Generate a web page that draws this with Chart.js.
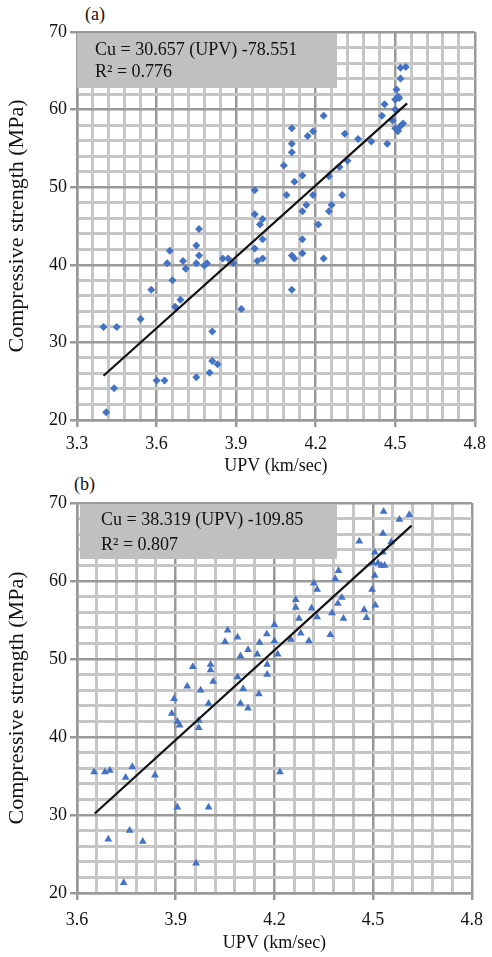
<!DOCTYPE html>
<html>
<head>
<meta charset="utf-8">
<script src="https://cdn.jsdelivr.net/npm/chart.js@4.4.1/dist/chart.umd.min.js"></script>
<style>
  html, body { margin: 0; padding: 0; background: #fff; }
  body { width: 492px; height: 957px; position: relative; overflow: hidden; }
  canvas { position: absolute; left: 0; }
  .tag { position: absolute; font: 18px "Liberation Serif", serif; color: #111; }
</style>
</head>
<body>
<span class="tag" style="left:85px; top:4px;">(a)</span>
<span class="tag" style="left:74px; top:474px;">(b)</span>
<canvas id="chartA" width="492" height="480" style="top:0"></canvas>
<canvas id="chartB" width="492" height="477" style="top:480px"></canvas>
<script>
// (a) UPV vs compressive strength, diamonds
const upvA = [3.40, 3.45, 3.41, 3.44, 3.54, 3.58, 3.60, 3.63, 3.65, 3.64, 3.66, 3.67, 3.69, 3.70, 3.71, 3.75, 3.76, 3.76, 3.75, 3.78,
  3.79, 3.75, 3.80, 3.81, 3.81, 3.83, 3.85, 3.87, 3.89, 3.92, 3.97, 3.97, 3.99, 4.00, 4.00, 3.97, 3.98, 4.00, 4.08, 4.11,
  4.11, 4.11, 4.09, 4.12, 4.15, 4.165, 4.15, 4.19, 4.15, 4.11, 4.12, 4.15, 4.11, 4.17, 4.19, 4.23, 4.21, 4.23, 4.25, 4.26,
  4.25, 4.29, 4.32, 4.30, 4.31, 4.36, 4.41, 4.45, 4.46, 4.47, 4.49, 4.50, 4.51, 4.52, 4.50, 4.515, 4.52, 4.54, 4.52, 4.505,
  4.51, 4.50, 4.51, 4.53];
const strA = [32.0, 32.0, 21.0, 24.1, 33.0, 36.8, 25.1, 25.1, 41.8, 40.2, 38.0, 34.6, 35.5, 40.5, 39.5, 42.5, 44.6, 41.2, 40.2, 39.9,
  40.2, 25.5, 26.1, 31.4, 27.6, 27.2, 40.8, 40.8, 40.2, 34.3, 49.6, 46.5, 45.2, 45.9, 43.3, 42.1, 40.5, 40.8, 52.8, 57.6,
  55.6, 54.5, 49.0, 50.7, 51.5, 47.7, 46.9, 49.0, 43.3, 41.2, 40.8, 41.5, 36.8, 56.6, 57.2, 59.2, 45.2, 40.8, 51.4, 47.7,
  46.9, 52.6, 53.4, 49.0, 56.9, 56.2, 55.9, 59.2, 60.7, 55.6, 58.6, 57.6, 57.3, 57.9, 60.0, 61.5, 65.4, 65.5, 64.0, 62.6,
  61.7, 61.3, 57.2, 58.2];
const trendXA = [3.40, 4.545];
const trendYA = [25.7, 60.8];
const eqA = ["Cu = 30.657 (UPV) -78.551", "R\u00B2 = 0.776"];

// (b) triangles
const upvB = [3.652, 3.685, 3.70, 3.748, 3.768, 3.837, 3.695, 3.76, 3.80, 3.742, 3.962, 3.905, 4.00, 4.217, 3.895, 3.888, 3.905, 3.912, 3.935, 3.952,
  3.976, 3.97, 3.97, 4.00, 4.006, 4.006, 4.014, 4.05, 4.058, 4.088, 4.097, 4.12, 4.088, 4.105, 4.097, 4.12, 4.148, 4.155, 4.177, 4.20,
  4.20, 4.21, 4.178, 4.178, 4.153, 4.25, 4.28, 4.305, 4.37, 4.265, 4.265, 4.275, 4.313, 4.32, 4.33, 4.33, 4.385, 4.395, 4.375, 4.393,
  4.405, 4.41, 4.473, 4.48, 4.458, 4.497, 4.507, 4.505, 4.505, 4.50, 4.515, 4.525, 4.535, 4.53, 4.53, 4.555, 4.532, 4.58, 4.61];
const strB = [35.5, 35.5, 35.7, 34.8, 36.2, 35.1, 26.9, 28.0, 26.6, 21.3, 23.8, 31.0, 31.0, 35.5, 44.9, 43.0, 42.0, 41.5, 46.5, 49.0,
  46.0, 42.1, 41.2, 44.3, 49.3, 48.6, 47.1, 52.2, 53.7, 52.8, 50.4, 51.2, 47.7, 46.2, 44.3, 43.7, 50.6, 52.1, 53.2, 54.4,
  52.3, 50.6, 49.3, 48.0, 45.5, 52.5, 53.3, 52.3, 53.1, 57.6, 56.6, 55.2, 56.5, 59.7, 58.9, 55.4, 60.3, 61.3, 55.9, 57.1,
  57.9, 55.2, 56.3, 55.3, 65.1, 58.9, 56.9, 60.7, 63.7, 62.3, 62.3, 62.0, 62.0, 63.7, 66.1, 65.0, 68.9, 67.9, 68.5];
const trendXB = [3.654, 4.617];
const trendYB = [30.2, 67.1];
const eqB = ["Cu = 38.319 (UPV) -109.85", "R\u00B2 = 0.807"];

const SERIF = '"Liberation Serif", "Times New Roman", serif';
const BLUE = '#4472C4';

const nearMult = (v, m) => Math.abs(v / m - Math.round(v / m)) < 1e-6;

// grey box with the regression equation, drawn under the points
const eqBox = {
  id: 'eqBox',
  beforeDatasetsDraw(chart, args, o) {
    const { ctx, chartArea: a } = chart;
    ctx.save();
    ctx.fillStyle = '#c0c0c0';
    ctx.fillRect(a.left + o.dx, a.top + 1, o.w, o.h);
    ctx.fillStyle = '#111';
    ctx.font = '18px ' + SERIF;
    ctx.textBaseline = 'alphabetic';
    ctx.fillText(o.lines[0], a.left + o.tx, a.top + o.y1);
    ctx.fillText(o.lines[1], a.left + o.tx, a.top + o.y2);
    ctx.restore();
  }
};

function makeChart(id, c) {
  const pts = c.xs.map((x, i) => ({ x: x, y: c.ys[i] }));
  const trend = c.tx.map((x, i) => ({ x: x, y: c.ty[i] }));
  const gridCol = (major) => (ctx) => major(ctx.tick.value) ? '#999999' : '#c6c6c6';
  const gridW = (major) => (ctx) => major(ctx.tick.value) ? 2.5 : 3;
  const tickCol = (major) => (ctx) => major(ctx.tick.value) ? '#999999' : 'rgba(0,0,0,0)';
  const xMajor = (v) => nearMult(v - 3.3, 0.3);
  const yMajor = (v) => nearMult(v, 10);

  return new Chart(document.getElementById(id), {
    type: 'scatter',
    data: {
      datasets: [
        {
          data: pts,
          pointStyle: c.style,
          pointRadius: c.radius,
          backgroundColor: BLUE,
          borderColor: BLUE,
          borderWidth: 0,
          order: 1
        },
        {
          type: 'line',
          data: trend,
          borderColor: '#111',
          borderWidth: 2.2,
          pointRadius: 0,
          fill: false,
          order: 0
        }
      ]
    },
    options: {
      responsive: false,
      animation: false,
      devicePixelRatio: 1,
      layout: { padding: { top: c.padTop, right: c.padRight, left: 0, bottom: 0 } },
      plugins: {
        legend: { display: false },
        tooltip: { enabled: false },
        eqBox: c.box
      },
      scales: {
        x: {
          type: 'linear',
          min: c.xmin,
          max: 4.8,
          afterFit(s) { s.height = c.xh; },
          ticks: {
            stepSize: 0.06,
            autoSkip: false,
            maxRotation: 0,
            padding: c.xpad,
            color: '#111',
            font: { family: SERIF, size: 18 },
            callback: (v) => xMajor(v) ? v.toFixed(1) : ''
          },
          grid: { color: gridCol(xMajor), lineWidth: gridW(xMajor), tickColor: tickCol(xMajor), tickLength: 7 },
          border: { color: '#999999', width: 2.5 },
          title: { display: true, text: 'UPV (km/sec)', color: '#111', font: { family: SERIF, size: 18 }, padding: 3 }
        },
        y: {
          min: 20,
          max: 70,
          afterFit(s) { s.width = 77; },
          ticks: {
            stepSize: 2,
            autoSkip: false,
            padding: 3,
            color: '#111',
            font: { family: SERIF, size: 18 },
            callback: (v) => yMajor(v) ? String(v) : ''
          },
          grid: { color: gridCol(yMajor), lineWidth: gridW(yMajor), tickColor: tickCol(yMajor), tickLength: 7 },
          border: { color: '#999999', width: 2.5 },
          title: { display: true, text: 'Compressive strength (MPa)', color: '#111', font: { family: SERIF, size: 22 }, padding: 4 }
        }
      }
    },
    plugins: [eqBox]
  });
}

makeChart('chartA', {
  xs: upvA, ys: strA, tx: trendXA, ty: trendYA,
  style: 'rectRot', radius: 4,
  xmin: 3.3, xh: 60, xpad: 6, padTop: 32, padRight: 12,
  box: { dx: 0, w: 260, h: 55, tx: 18, y1: 23, y2: 45, lines: eqA }
});

makeChart('chartB', {
  xs: upvB, ys: strB, tx: trendXB, ty: trendYB,
  style: 'triangle', radius: 4.5,
  xmin: 3.6, xh: 64, xpad: 9, padTop: 23, padRight: 14,
  box: { dx: 3, w: 257, h: 55, tx: 24, y1: 22, y2: 47, lines: eqB }
});
</script>
</body>
</html>
